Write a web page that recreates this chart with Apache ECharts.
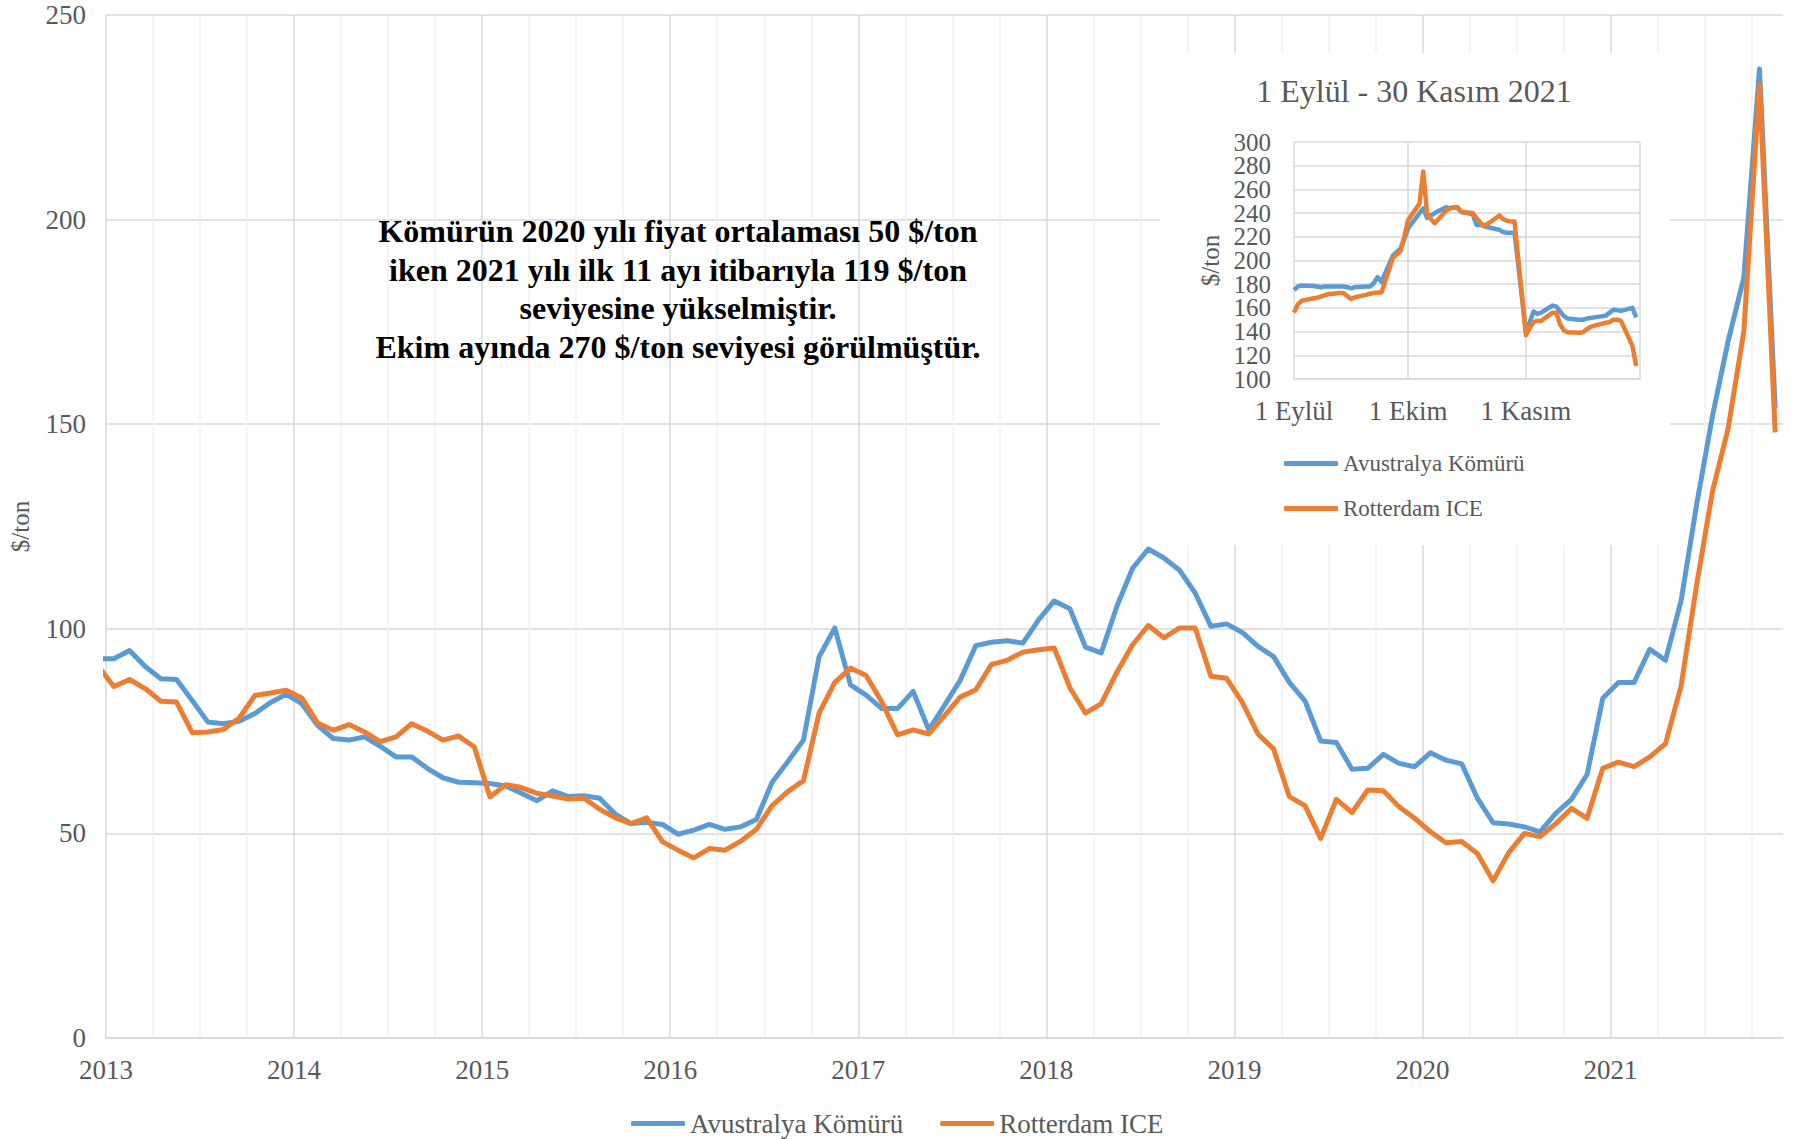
<!DOCTYPE html>
<html>
<head>
<meta charset="utf-8">
<title>Kömür fiyatları</title>
<script src="https://cdn.jsdelivr.net/npm/echarts@6/dist/echarts.min.js"></script>
<style>
  html, body { margin: 0; padding: 0; background: #fff; }
  #chart { width: 1795px; height: 1139px; }
</style>
</head>
<body>
<div id="chart"></div>
<script>
  // aylık fiyatlar ($/ton), Aralık 2012 - Kasım 2021 (ilk ay eksenin solunda kırpılır)
  const yillar = ['2013', '2014', '2015', '2016', '2017', '2018', '2019', '2020', '2021']
  const avustralya = [
    92.7,
    92.7, 94.7, 90.8, 87.8, 87.6, 82.5, 77.2, 76.8, 77.4, 79.3, 82.0, 84.0,
    81.7, 76.4, 73.2, 72.8, 73.6, 71.3, 68.7, 68.7, 65.9, 63.6, 62.5, 62.4,
    62.2, 61.6, 59.8, 58.0, 60.4, 59.0, 59.2, 58.6, 54.7, 52.4, 52.7, 52.2,
    49.8, 50.8, 52.2, 51.0, 51.6, 53.4, 62.5, 67.5, 72.8, 93.2, 100.2, 86.3,
    83.8, 80.5, 80.5, 84.7, 75.3, 81.3, 87.4, 95.9, 96.7, 97.1, 96.5, 102.2,
    106.8, 104.9, 95.5, 94.1, 105.5, 114.8, 119.5, 117.3, 114.3, 108.7, 100.6, 101.2,
    99.1, 95.7, 93.2, 86.9, 82.4, 72.6, 72.2, 65.7, 65.9, 69.3, 67.1, 66.3,
    69.7, 67.9, 67.0, 58.6, 52.6, 52.3, 51.6, 50.4, 54.9, 58.3, 64.4, 83.0,
    86.9, 86.9, 95.0, 92.3, 106.9, 130.6, 152.0, 170.3, 185.8, 236.8, 153.9
  ]
  const rotterdam = [
    90.9,
    85.9, 87.6, 85.4, 82.3, 82.1, 74.6, 74.8, 75.4, 78.2, 83.7, 84.3, 85.0,
    83.1, 77.0, 75.2, 76.6, 74.8, 72.4, 73.6, 76.8, 75.0, 72.8, 73.8, 71.1,
    58.9, 61.9, 61.2, 59.8, 59.1, 58.4, 58.6, 55.9, 53.8, 52.4, 53.8, 48.0,
    45.9, 44.0, 46.3, 45.9, 48.1, 51.0, 56.8, 60.2, 62.9, 79.4, 86.9, 90.4,
    88.6, 82.1, 74.1, 75.3, 74.3, 78.8, 83.3, 85.1, 91.3, 92.3, 94.3, 94.9,
    95.3, 85.6, 79.4, 81.7, 89.4, 96.1, 100.8, 97.8, 100.2, 100.2, 88.4, 87.9,
    82.0, 74.3, 70.6, 59.0, 56.8, 48.8, 58.3, 55.1, 60.6, 60.4, 56.5, 53.7,
    50.4, 47.7, 48.0, 45.1, 38.4, 45.3, 50.0, 49.2, 52.4, 56.1, 53.7, 65.9,
    67.4, 66.3, 68.7, 71.9, 86.1, 111.0, 133.6, 149.0, 172.7, 233.2, 148.0
  ]

  // iç grafik: 1 Eylül - 30 Kasım 2021, işlem günleri
  const icTarihler = [
    '09-01', '09-02', '09-03', '09-06', '09-07', '09-08', '09-09', '09-10', '09-13', '09-14', '09-15',
    '09-16', '09-17', '09-20', '09-21', '09-22', '09-23', '09-24', '09-27', '09-28', '09-29', '09-30',
    '10-01', '10-04', '10-05', '10-06', '10-07', '10-08', '10-11', '10-12', '10-13', '10-14', '10-15',
    '10-18', '10-19', '10-20', '10-21', '10-22', '10-25', '10-26', '10-27', '10-28', '10-29',
    '11-01', '11-02', '11-03', '11-04', '11-05', '11-08', '11-09', '11-10', '11-11', '11-12', '11-15',
    '11-16', '11-17', '11-18', '11-19', '11-22', '11-23', '11-24', '11-25', '11-26', '11-29', '11-30'
  ]
  const icAvustralya = [
    175, 178, 179, 178.5, 178, 177.5, 178, 178, 178, 178, 177.5,
    176.5, 177.5, 178, 178, 181, 186, 182, 204, 207, 210, 218,
    227, 240, 244, 236, 238, 240, 245, 244, 245, 244, 241,
    239, 230, 230, 229, 228, 226, 224, 223.5, 223.5, 223.5,
    140, 148, 157, 155, 156, 162, 161, 157, 153, 151, 150,
    150, 151, 151.5, 152, 153.5, 156, 158.5, 158, 157.5, 160, 152
  ]
  const icRotterdam = [
    156, 163, 166, 168, 168.5, 169.5, 170.5, 171.5, 172.5, 172.5, 170,
    167.5, 169, 171, 172, 172.5, 173, 173, 202, 205, 208, 220,
    234, 248, 275, 240, 235, 231.5, 242, 244, 245, 245, 241,
    240, 236, 232, 229, 231, 238, 235, 233.5, 233, 233,
    137, 143, 148, 149, 149, 156, 156, 146, 141, 139.5, 139,
    139.5, 142, 144, 145, 147.5, 148, 150, 150, 149, 128, 111
  ]
  const icAyAdlari = {'09': 'Eylül', '10': 'Ekim', '11': 'Kasım'}

  const notMetni = [
    'Kömürün 2020 yılı fiyat ortalaması 50 $/ton',
    'iken 2021 yılı ilk 11 ayı itibarıyla 119 $/ton',
    'seviyesine yükselmiştir.',
    'Ekim ayında 270 $/ton seviyesi görülmüştür.'
  ]

  const serif = '"Liberation Serif", "Times New Roman", serif'
  const yaziRengi = '#595959'
  const mavi = '#5b9bd5'
  const turuncu = '#ed7d31'

  // iç grafiğin gün kategorileri (1 Eylül - 1 Aralık)
  const icGunler = []
  for (let t = Date.UTC(2021, 8, 1); t <= Date.UTC(2021, 11, 1); t += 86400000) {
    icGunler.push(new Date(t).toISOString().slice(0, 10))
  }
  const ayBasi = (i, v) => v.slice(8) === '01'

  // iç grafiğin y ekseni: sık etiketler iki eksene bölünür, böylece hiçbiri gizlenmez
  const icYEkseni = (tekler) => ({
    type: 'value', gridIndex: 1, position: 'left', offset: 0,
    min: 100, max: 300, interval: 20, z: 10,
    axisLine: {show: false}, axisTick: {show: false},
    axisLabel: {
      color: yaziRengi, fontSize: 25, fontFamily: serif, margin: 23,
      showMinLabel: true, showMaxLabel: true,
      formatter: v => (((v - 100) / 20) % 2 === (tekler ? 1 : 0) ? String(v) : '')
    },
    splitLine: {show: !tekler, lineStyle: {color: '#d9d9d9', width: 1.5}}
  })

  const chart = echarts.init(document.getElementById('chart'), null, {renderer: 'svg'})
  chart.setOption({
    animation: false,
    textStyle: {fontFamily: serif},
    grid: [
      {left: 106, right: 12, top: 15, bottom: 101},
      {left: 1294, right: 155, top: 142, bottom: 760}
    ],
    xAxis: [
      {
        type: 'value', gridIndex: 0, min: 0, max: 107, interval: 3,
        axisLine: {show: true, lineStyle: {color: '#d9d9d9', width: 1.5}},
        axisTick: {show: false},
        axisLabel: {
          color: yaziRengi, fontSize: 27, fontFamily: serif, margin: 18,
          formatter: v => (v % 12 === 0 ? yillar[v / 12] : '')
        },
        splitLine: {
          show: true, showMaxLine: false,
          lineStyle: {color: ['#d9d9d9', '#f0f0f0', '#f0f0f0', '#f0f0f0'], width: 1.5}
        }
      },
      {
        type: 'category', gridIndex: 1, data: icGunler, boundaryGap: false, z: 10,
        axisLine: {show: true, lineStyle: {color: '#d9d9d9', width: 1.5}},
        axisTick: {show: false},
        axisLabel: {
          color: yaziRengi, fontSize: 27, fontFamily: serif, margin: 18,
          interval: (i, v) => ayBasi(i, v) && !!icAyAdlari[v.slice(5, 7)],
          formatter: v => '1 ' + icAyAdlari[v.slice(5, 7)]
        },
        splitLine: {show: true, interval: ayBasi, lineStyle: {color: '#d9d9d9', width: 1.5}}
      }
    ],
    yAxis: [
      {
        type: 'value', gridIndex: 0, min: 0, max: 250, interval: 50,
        name: '$/ton', nameLocation: 'middle', nameRotate: 90, nameGap: 73,
        nameTextStyle: {color: yaziRengi, fontSize: 25, fontFamily: serif},
        axisLine: {show: false}, axisTick: {show: false},
        axisLabel: {color: yaziRengi, fontSize: 27, fontFamily: serif, margin: 20, showMinLabel: true, showMaxLabel: true},
        splitLine: {lineStyle: {color: '#d9d9d9', width: 1.5}}
      },
      Object.assign(icYEkseni(false), {
        name: '$/ton', nameLocation: 'middle', nameRotate: 90, nameGap: 71,
        nameTextStyle: {color: yaziRengi, fontSize: 25, fontFamily: serif}
      }),
      icYEkseni(true)
    ],
    legend: [
      {
        data: ['Avustralya Kömürü', 'Rotterdam ICE'], padding: 0,
        left: 631, top: 1110, itemWidth: 54, itemHeight: 5, itemGap: 37, icon: 'roundRect',
        textStyle: {color: yaziRengi, fontSize: 27, fontFamily: serif}
      },
      {
        data: ['Avustralya Kömürü', 'Rotterdam ICE'], orient: 'vertical', z: 12, padding: 0,
        left: 1284, top: 452, itemWidth: 54, itemHeight: 5, itemGap: 22, icon: 'roundRect',
        textStyle: {color: yaziRengi, fontSize: 23, fontFamily: serif}
      }
    ],
    graphic: [
      {type: 'rect', z: 5, shape: {x: 1160, y: 53, width: 510, height: 492}, style: {fill: '#fff'}},
      {
        type: 'text', z: 12, x: 1414, y: 91,
        style: {
          text: '1 Eylül - 30 Kasım 2021', fontSize: 32, fontFamily: serif, fill: yaziRengi,
          align: 'center', verticalAlign: 'middle', textAlign: 'center', textVerticalAlign: 'middle'
        }
      },
      {
        type: 'text', z: 12, x: 678, y: 212,
        style: {
          text: notMetni.join('\n'), fontSize: 32, fontWeight: 'bold', fontFamily: serif, fill: '#000',
          lineHeight: 38.5, align: 'center', verticalAlign: 'top', textAlign: 'center', textVerticalAlign: 'top'
        }
      }
    ],
    series: [
      {
        name: 'Avustralya Kömürü', type: 'line', xAxisIndex: 0, yAxisIndex: 0,
        data: avustralya.map((v, i) => [i - 0.5, v]),
        showSymbol: false, clip: true, color: mavi,
        lineStyle: {color: mavi, width: 5, join: 'round'}
      },
      {
        name: 'Rotterdam ICE', type: 'line', xAxisIndex: 0, yAxisIndex: 0,
        data: rotterdam.map((v, i) => [i - 0.5, v]),
        showSymbol: false, clip: true, color: turuncu,
        lineStyle: {color: turuncu, width: 5, join: 'round'}
      },
      {
        name: 'Avustralya Kömürü', type: 'line', xAxisIndex: 1, yAxisIndex: 1, z: 12,
        data: icTarihler.map((d, i) => ['2021-' + d, icAvustralya[i]]),
        showSymbol: false, color: mavi,
        lineStyle: {color: mavi, width: 4.5, join: 'round'}
      },
      {
        name: 'Rotterdam ICE', type: 'line', xAxisIndex: 1, yAxisIndex: 1, z: 12,
        data: icTarihler.map((d, i) => ['2021-' + d, icRotterdam[i]]),
        showSymbol: false, color: turuncu,
        lineStyle: {color: turuncu, width: 4.5, join: 'round'}
      }
    ]
  })
</script>
</body>
</html>
